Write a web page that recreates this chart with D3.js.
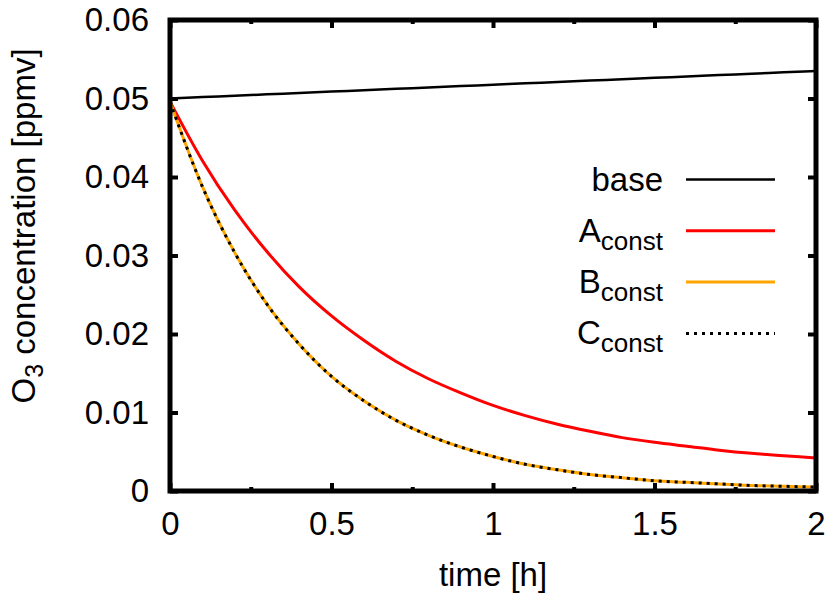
<!doctype html>
<html>
  <head>
    <style>
      body { margin: 0; background: #fff; }
      text { font-family: "Liberation Sans", Arial, sans-serif; }
    </style>
  </head>
  <body>
    <svg width="833" height="594" id="content"></svg>

    <script src="https://cdnjs.cloudflare.com/ajax/libs/d3/7.8.5/d3.min.js"></script>
    <script>
      // time in hours
      const times = [0, 0.1, 0.2, 0.3, 0.4, 0.5, 0.6, 0.7, 0.8, 0.9, 1.0,
        1.1, 1.2, 1.3, 1.4, 1.5, 1.6, 1.7, 1.8, 1.9, 2.0]

      // O3 concentration in ppmv
      const baseValues = [0.05000, 0.05018, 0.05035, 0.05053, 0.05070, 0.05088, 0.05105, 0.05123, 0.05140, 0.05158, 0.05175,
        0.05193, 0.05210, 0.05228, 0.05245, 0.05263, 0.05280, 0.05298, 0.05315, 0.05333, 0.05350]
      const aConstValues = [0.0496, 0.0421, 0.0358, 0.0305, 0.0260, 0.0223, 0.0192, 0.0165, 0.0143, 0.0125, 0.0109,
        0.0096, 0.0085, 0.0076, 0.0068, 0.0062, 0.0057, 0.0052, 0.0048, 0.0045, 0.0042]
      const bConstValues = [0.0496, 0.0388, 0.0304, 0.0238, 0.0187, 0.0146, 0.0115, 0.0090, 0.0071, 0.0056, 0.0044,
        0.0034, 0.0027, 0.0021, 0.0017, 0.0013, 0.0011, 0.0009, 0.0007, 0.0006, 0.0005]
      const cConstValues = [0.0496, 0.0388, 0.0304, 0.0238, 0.0187, 0.0146, 0.0115, 0.0090, 0.0071, 0.0056, 0.0044,
        0.0034, 0.0027, 0.0021, 0.0017, 0.0013, 0.0011, 0.0009, 0.0007, 0.0006, 0.0005]

      const xTicks = [0, 0.5, 1, 1.5, 2]
      const xTickLabels = ['0', '0.5', '1', '1.5', '2']
      const xMinorTicks = [0.25, 0.75, 1.25, 1.75]
      const yTicks = [0, 0.01, 0.02, 0.03, 0.04, 0.05, 0.06]
      const yTickLabels = ['0', '0.01', '0.02', '0.03', '0.04', '0.05', '0.06']

      const series = [
        { name: 'base', sub: '', values: baseValues, color: '#000', width: 2.5, dash: null },
        { name: 'A', sub: 'const', values: aConstValues, color: '#ff0000', width: 3, dash: null },
        { name: 'B', sub: 'const', values: bConstValues, color: '#ffa500', width: 3, dash: null },
        { name: 'C', sub: 'const', values: cConstValues, color: '#000', width: 3, dash: '3,5' }
      ]

      const svg = d3.select('#content')
      const plotLeft = 170, plotRight = 816, plotTop = 20, plotBottom = 491
      const fontSize = 33

      const x = d3.scaleLinear().domain([0, 2]).range([plotLeft, plotRight])
      const y = d3.scaleLinear().domain([0, 0.06]).range([plotBottom, plotTop])

      svg.append('clipPath').attr('id', 'plotClip')
        .append('rect')
        .attr('x', plotLeft).attr('y', plotTop)
        .attr('width', plotRight - plotLeft).attr('height', plotBottom - plotTop)

      // curves
      const line = d3.line()
        .x(d => x(d[0]))
        .y(d => y(d[1]))
        .curve(d3.curveMonotoneX)

      const plot = svg.append('g').attr('clip-path', 'url(#plotClip)')
      series.forEach(s => {
        plot.append('path')
          .datum(times.map((t, i) => [t, s.values[i]]))
          .attr('d', line)
          .attr('fill', 'none')
          .attr('stroke', s.color)
          .attr('stroke-width', s.width)
          .attr('stroke-dasharray', s.dash)
      })

      // axes, ticks pointing inward on all four sides
      function styleAxis (g) {
        g.select('.domain').remove()
        g.selectAll('.tick line').attr('stroke', '#000').attr('stroke-width', 4)
        g.selectAll('.tick text')
          .attr('fill', '#000')
          .style('font-size', `${fontSize}px`)
          .style('font-family', '"Liberation Sans", Arial, sans-serif')
      }

      svg.append('g')
        .attr('transform', `translate(0, ${plotBottom})`)
        .call(d3.axisBottom(x).tickValues(xTicks).tickSize(-8).tickPadding(21)
          .tickFormat((d, i) => xTickLabels[i]))
        .call(styleAxis)

      svg.append('g')
        .attr('transform', `translate(${plotLeft}, 0)`)
        .call(d3.axisLeft(y).tickValues(yTicks).tickSize(-8).tickPadding(21)
          .tickFormat((d, i) => yTickLabels[i]))
        .call(styleAxis)

      svg.append('g')
        .attr('transform', `translate(0, ${plotTop})`)
        .call(d3.axisTop(x).tickValues(xTicks).tickSize(-8).tickFormat(''))
        .call(styleAxis)

      svg.append('g')
        .attr('transform', `translate(${plotRight}, 0)`)
        .call(d3.axisRight(y).tickValues(yTicks).tickSize(-8).tickFormat(''))
        .call(styleAxis)

      // minor ticks on x
      svg.append('g')
        .attr('transform', `translate(0, ${plotBottom})`)
        .call(d3.axisBottom(x).tickValues(xMinorTicks).tickSize(-4).tickFormat(''))
        .call(styleAxis)
      svg.append('g')
        .attr('transform', `translate(0, ${plotTop})`)
        .call(d3.axisTop(x).tickValues(xMinorTicks).tickSize(-4).tickFormat(''))
        .call(styleAxis)

      // frame
      svg.append('rect')
        .attr('x', plotLeft).attr('y', plotTop)
        .attr('width', plotRight - plotLeft).attr('height', plotBottom - plotTop)
        .attr('fill', 'none')
        .attr('stroke', '#000')
        .attr('stroke-width', 5)

      // axis titles
      svg.append('text')
        .attr('x', (plotLeft + plotRight) / 2)
        .attr('y', 586)
        .attr('text-anchor', 'middle')
        .style('font-size', `${fontSize}px`)
        .text('time [h]')

      const yTitle = svg.append('text')
        .attr('transform', 'translate(35, 226) rotate(-90)')
        .attr('text-anchor', 'middle')
        .style('font-size', `${fontSize}px`)
      yTitle.append('tspan').text('O')
      yTitle.append('tspan').attr('dy', 8).style('font-size', '25px').text('3')
      yTitle.append('tspan').attr('dy', -8).text(' concentration [ppmv]')

      // legend
      const legendRowY = d3.scaleLinear().domain([0, 1]).range([179.5, 230.8])
      series.forEach((s, i) => {
        const ly = legendRowY(i)
        const label = svg.append('text')
          .attr('x', 663)
          .attr('y', ly + 11)
          .attr('text-anchor', 'end')
          .style('font-size', `${fontSize}px`)
        label.append('tspan').text(s.name)
        if (s.sub) {
          label.append('tspan').attr('dy', 8).style('font-size', '26px').text(s.sub)
        }

        svg.append('line')
          .attr('x1', 686).attr('x2', 775)
          .attr('y1', ly).attr('y2', ly)
          .attr('stroke', s.color)
          .attr('stroke-width', s.width)
          .attr('stroke-dasharray', s.dash)
      })
    </script>
  </body>
</html>
